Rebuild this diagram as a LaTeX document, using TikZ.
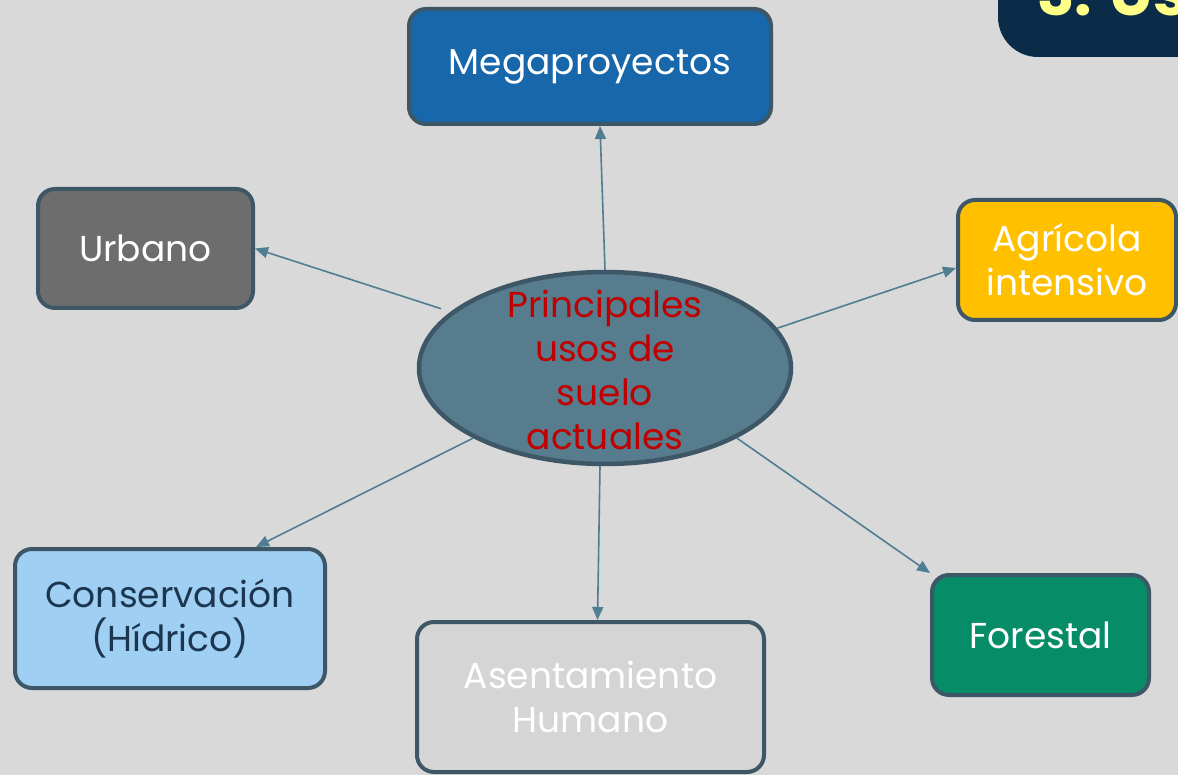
\documentclass[tikz,border=0pt]{standalone}
\usepackage{fontspec}
\setmainfont{Poppins}
\usetikzlibrary{arrows.meta,shapes.geometric}
\definecolor{bgc}{HTML}{D9D9D9}
\definecolor{edge}{HTML}{3D5767}
\definecolor{arrc}{HTML}{4F7D92}
\definecolor{megac}{HTML}{1767AA}
\definecolor{urbc}{HTML}{6D6D6D}
\definecolor{agrc}{HTML}{FFC000}
\definecolor{ellc}{HTML}{567C8E}
\definecolor{consc}{HTML}{9FCFF3}
\definecolor{asenc}{HTML}{D5D5D5}
\definecolor{forc}{HTML}{068C66}
\definecolor{navy}{HTML}{0A2C48}
\definecolor{titc}{HTML}{FFFF88}
\definecolor{redt}{HTML}{C00000}
\definecolor{darkt}{HTML}{1D3650}

\begin{document}
\begin{tikzpicture}[x=1pt,y=-1pt,
    box/.style={draw=edge,line width=4pt,rounded corners=17pt,text=white,
      align=center,inner sep=0pt,font=\fontsize{36}{44}\selectfont},
    arr/.style={draw=arrc,line width=1.6pt,-{Triangle[length=13pt,width=11pt]}}]
    \useasboundingbox (0,0) rectangle (1178,775);
    \fill[bgc] (0,0) rectangle (1178,775);
    \clip (0,0) rectangle (1178,775);
    % title tab, cut by the page edge
    \fill[navy,rounded corners=40pt] (998,-60) rectangle (1240,57);
    \node[anchor=base west,inner sep=0pt,text=titc,font=\fontsize{62}{62}\selectfont\bfseries] (tit) at (1037,16) {3. Us};
    % centre
    \node[ellipse,draw=edge,line width=4.5pt,fill=ellc,minimum width=372pt,minimum height=192pt,
      inner sep=0pt] (ell) at (605,368) {};
    \node[inner sep=0pt,text=redt,align=center,font=\fontsize{36}{44}\selectfont] (elltxt) at ([yshift=-2pt]ell.center)
      {Principales\\usos de\\suelo\\actuales};
    % land uses
    \node[box,fill=megac,minimum width=362pt,minimum height=115pt] (mega) at (590,66.5) {Megaproyectos};
    \node[box,fill=urbc,minimum width=215pt,minimum height=119pt] (urb) at (145.5,248.5) {Urbano};
    \node[box,fill=agrc,minimum width=218pt,minimum height=120pt] (agr) at (1067,260) {Agrícola\\intensivo};
    \node[box,fill=consc,text=darkt,minimum width=310pt,minimum height=139pt] (cons) at (170,618.5) {Conservación\\(Hídrico)};
    \node[box,fill=asenc,minimum width=347pt,minimum height=150pt] (asen) at (590.5,697) {Asentamiento\\Humano};
    \node[box,fill=forc,minimum width=217pt,minimum height=120pt] (fore) at (1040.5,635) {Forestal};
    % arrows
    \draw[arr] (ell.north) -- ([xshift=10pt]mega.south);
    \draw[arr,shorten <=10pt] (ell.160) -- (urb.east);
    \draw[arr] (ell.13) -- ([yshift=-8pt]agr.west);
    \draw[arr] (ell.208) -- ([xshift=86pt]cons.north);
    \draw[arr] ([xshift=-5pt]ell.south) -- ([xshift=7pt]asen.north);
    \draw[arr] (ell.-28) -- (fore.north west);
\end{tikzpicture}
\end{document}
